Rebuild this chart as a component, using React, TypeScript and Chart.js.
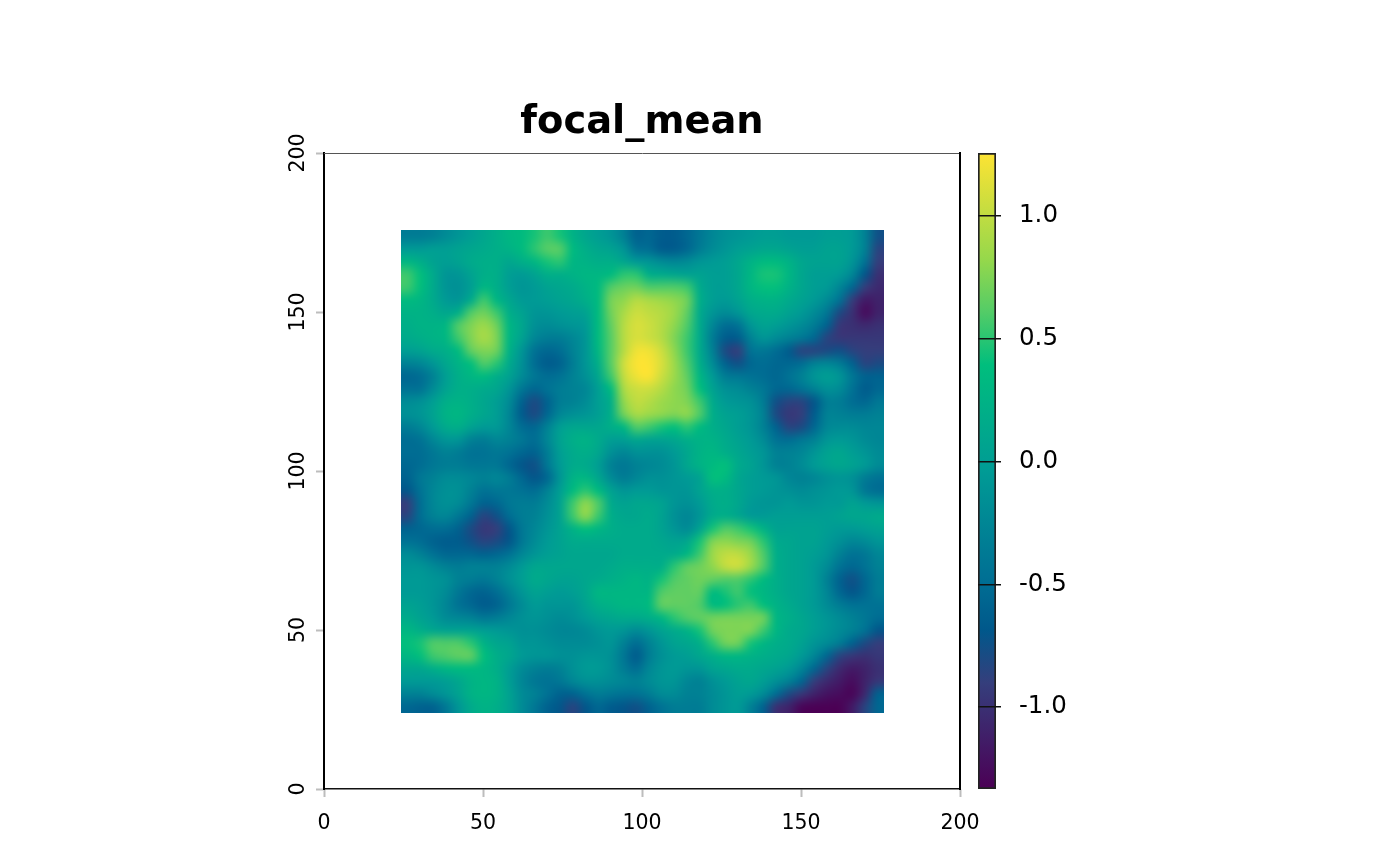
import React, { useEffect, useRef } from "react";
import { Chart, registerables } from "chart.js";

Chart.register(...registerables);

const titleText = "focal_mean";
const axisTicks = [0, 50, 100, 150, 200];
const legendTicks = [-1.0, -0.5, 0.0, 0.5, 1.0];
const legendRange = [-1.334, 1.257];
const paletteStops = [
  [0, "#4B0055"], [1 / 6, "#353E7C"], [0.25, "#00588B"], [1 / 3, "#007094"], [0.5, "#009B95"],
  [2 / 3, "#00BE7D"], [0.75, "#53CC67"], [5 / 6, "#96D84B"], [1, "#FDE333"],
] as [number, string][];
const gridExtent = [24, 176];
const cellSize = 4;

// focal mean values x100, one row per 4 map units, north to south, west to east
const cellRows: number[][] = [
  [-35,-35,-30,-20,-10,0,10,20,30,35,45,55,45,25,10,0,-10,-30,-60, -55,-65,-65,-55,-40,-25,-15,-10,-5,0,0,-5,-5,-5,0,0,-5,-30,-75],
  [-5,-5,0,0,5,10,15,20,25,35,50,62,62,35,20,10,5,-10,-45, -50,-65,-65,-55,-35,-20,-10,0,5,10,10,5,0,0,5,5,-5,-30,-85],
  [30,20,5,0,5,15,20,20,10,20,30,45,50,30,25,20,20,10,-5, -10,-20,-25,-20,-10,-5,0,10,25,35,35,25,10,5,5,5,-10,-45,-90],
  [55,40,15,-10,-10,5,20,20,0,-5,5,20,20,25,30,30,35,50,50, 20,15,10,5,5,0,0,10,30,45,45,30,10,0,0,-5,-25,-70,-100],
  [55,40,15,-10,-15,0,30,20,0,-10,-5,5,10,15,25,35,60,68,70, 60,60,60,55,15,0,0,10,30,40,40,25,10,0,-5,-25,-55,-90,-105],
  [35,30,15,-5,-10,15,55,30,10,-5,-5,0,5,10,20,35,72,80,95, 90,85,80,70,20,0,-5,5,20,25,25,15,5,-5,-20,-45,-90,-115,-110],
  [25,25,20,10,20,60,70,55,20,5,-10,-10,-5,0,5,35,70,90,105, 100,95,85,65,15,-10,-20,-10,10,15,15,5,-5,-20,-40,-80,-100,-125,-110],
  [20,25,25,30,60,75,85,70,30,10,-15,-20,-15,-10,-5,35,65,95,110, 105,95,80,60,15,-25,-50,-45,-10,5,0,-10,-20,-35,-60,-95,-100,-105,-100],
  [15,20,25,30,55,75,90,75,30,5,-25,-35,-35,-25,-10,35,62,95,110, 105,95,75,55,15,-35,-65,-65,-30,-10,-20,-30,-40,-55,-85,-95,-95,-95,-95],
  [0,5,15,20,35,65,75,70,25,-10,-45,-55,-50,-30,-10,30,62,95,120, 120,105,80,55,15,-30,-80,-90,-45,-40,-50,-65,-85,-85,-80,-75,-85,-90,-90],
  [-30,-25,-10,10,25,40,60,50,15,-15,-50,-65,-60,-35,-10,20,62,105,125, 125,110,85,60,20,-20,-60,-75,-55,-50,-55,-55,-50,-30,-25,-35,-60,-85,-80],
  [-55,-50,-30,0,20,30,35,20,5,-20,-40,-50,-45,-30,-15,10,55,100,120, 125,105,85,65,30,-5,-35,-40,-45,-50,-55,-45,-30,-10,0,-10,-40,-60,-60],
  [-45,-45,-20,5,20,20,15,10,-10,-40,-55,-45,-35,-30,-25,0,35,90,105, 105,95,80,70,40,5,-15,-20,-30,-40,-55,-55,-45,-30,-15,-20,-45,-65,-55],
  [-20,-15,0,20,25,20,10,0,-20,-60,-80,-60,-35,-30,-20,0,20,80,100, 95,85,80,75,55,15,-5,-10,-15,-35,-75,-85,-85,-70,-35,-35,-50,-55,-40],
  [-15,-10,5,25,30,20,10,0,-25,-65,-80,-55,-25,-15,-10,0,20,70,90, 85,80,75,80,60,20,5,0,-10,-30,-80,-95,-90,-65,-30,-30,-35,-35,-30],
  [-35,-25,-5,15,20,5,-5,-5,-25,-50,-55,-30,0,10,10,10,20,30,60, 55,45,40,50,35,20,10,0,-10,-30,-60,-85,-80,-55,-25,-20,-20,-25,-25],
  [-50,-45,-25,-10,-10,-30,-35,-25,-30,-40,-50,-25,5,20,25,15,0,0,10, 5,5,10,20,25,25,15,5,-5,-20,-45,-50,-40,-30,-10,-5,-10,-20,-25],
  [-50,-50,-40,-30,-35,-45,-45,-40,-45,-55,-60,-35,0,15,20,10,-15,-25,-15, -15,-15,-5,10,25,30,20,10,0,-10,-30,-30,-25,-10,5,10,0,-10,-20],
  [-55,-50,-40,-35,-35,-40,-40,-40,-55,-70,-75,-40,-5,15,15,0,-30,-40,-30, -25,-20,-10,10,25,35,40,15,5,-10,-30,-30,-20,-5,5,10,5,-5,-20],
  [-60,-40,-30,-20,-20,-25,-30,-25,-35,-55,-70,-55,-10,25,30,10,-20,-35,-25, -15,-15,-10,-5,5,40,35,10,0,-5,-10,-25,-30,-25,-15,-10,-15,-35,-45],
  [-70,-45,-25,-15,-15,-30,-45,-40,-40,-45,-50,-30,0,35,50,35,5,-10,-5, -5,-10,-10,-10,5,20,20,10,0,-5,-10,-15,-20,-15,-10,-5,-10,-40,-50],
  [-90,-50,-25,-15,-20,-40,-60,-55,-40,-35,-35,-20,5,55,80,60,15,5,10, 10,5,-10,-15,-5,15,20,10,-5,-10,-10,-5,-10,-10,-5,-5,5,-5,-10],
  [-85,-50,-30,-25,-40,-60,-85,-75,-50,-35,-30,-15,5,55,80,55,20,10,10, 15,5,-15,-25,-10,15,20,10,-5,-5,0,0,0,0,0,5,10,10,15],
  [-60,-55,-50,-50,-60,-80,-95,-90,-70,-40,-25,-10,5,25,40,30,20,15,15, 15,5,-10,-20,5,45,60,55,45,25,5,5,5,5,0,-5,-5,0,5],
  [-45,-50,-60,-65,-65,-75,-85,-80,-70,-40,-20,-5,5,15,15,15,15,15,15, 15,10,5,10,45,75,80,75,70,50,15,10,5,5,-5,-15,-25,-20,-10],
  [-20,-30,-45,-55,-55,-55,-60,-55,-45,-25,-10,0,5,10,10,10,10,15,15, 15,15,15,30,55,85,100,100,85,60,20,10,5,0,-10,-30,-45,-40,-25],
  [-10,-10,-20,-30,-35,-30,-30,-30,-20,-5,10,10,10,10,10,10,15,20,20, 20,20,50,65,70,80,100,105,85,60,20,10,5,-5,-20,-45,-55,-45,-30],
  [-5,-5,-10,-15,-30,-35,-40,-30,-15,0,15,10,5,5,10,15,20,25,30, 25,45,60,65,70,65,60,60,50,35,20,10,5,-5,-30,-60,-75,-55,-35],
  [-5,-5,-10,-20,-40,-55,-60,-50,-30,-10,5,0,-5,0,10,30,30,30,30, 30,60,65,65,65,35,45,55,40,30,20,10,5,-5,-25,-55,-70,-55,-35],
  [5,0,-10,-25,-45,-55,-65,-60,-40,-20,-5,-10,-10,-10,5,20,25,30,30, 35,65,65,65,60,35,40,50,55,40,25,15,5,-5,-20,-35,-45,-45,-45],
  [15,5,-5,-20,-25,-30,-40,-35,-25,-15,-10,-15,-20,-15,-5,5,10,15,15, 20,30,50,60,65,70,72,72,72,70,30,20,10,0,-10,-20,-30,-40,-50],
  [30,20,10,5,5,5,0,-5,-10,-15,-15,-20,-25,-25,-20,-10,-5,-10,-20, -10,5,15,25,45,70,75,75,75,55,30,15,10,0,-10,-20,-30,-45,-70],
  [40,45,60,60,60,50,25,10,5,-10,-10,-15,-20,-20,-20,-15,-10,-30,-50, -30,-10,5,10,20,50,70,70,45,30,20,15,5,-10,-20,-35,-60,-80,-90],
  [30,40,55,60,65,65,40,20,10,-5,-10,-10,-15,-15,-10,-10,-15,-40,-65, -35,-15,-5,0,10,20,30,30,25,20,15,10,-5,-25,-55,-85,-95,-100,-95],
  [10,10,20,30,35,35,30,20,0,-20,-30,-35,-30,-15,-5,-5,-15,-35,-50, -25,-10,-5,-10,-10,5,10,15,15,10,5,-5,-25,-55,-85,-105,-115,-110,-100],
  [-5,-5,-5,0,10,25,30,25,0,-25,-40,-45,-40,-25,-15,-15,-20,-25,-30, -20,-10,-10,-25,-30,-15,-5,5,10,0,-15,-30,-55,-90,-105,-115,-125,-110,-95],
  [-30,-30,-20,-10,5,25,30,25,5,-20,-30,-45,-60,-60,-45,-35,-40,-45,-45, -35,-20,-20,-30,-30,-20,-10,0,-5,-20,-50,-80,-95,-110,-120,-125,-130,-105,-60],
  [-55,-60,-60,-40,-10,15,25,20,5,-20,-40,-60,-70,-85,-70,-55,-65,-70,-75, -60,-45,-35,-35,-35,-20,-10,-5,-30,-60,-100,-110,-130,-133,-133,-133,-115,-85,-55],
];

const hexToRgb = (h: string) => [1, 3, 5].map((i) => parseInt(h.slice(i, i + 2), 16));

function colorFor(value: number): number[] {
  const t = Math.min(1, Math.max(0, (value - legendRange[0]) / (legendRange[1] - legendRange[0])));
  for (let i = 1; i < paletteStops.length; i++) {
    if (t <= paletteStops[i][0]) {
      const [t0, c0] = paletteStops[i - 1];
      const [t1, c1] = paletteStops[i];
      const f = (t - t0) / (t1 - t0);
      const a = hexToRgb(c0);
      const b = hexToRgb(c1);
      return a.map((v, k) => Math.round(v + (b[k] - v) * f));
    }
  }
  return hexToRgb(paletteStops[paletteStops.length - 1][1]);
}

const cellPoints = cellRows.flatMap((row, r) =>
  row.map((v, c) => ({
    x: gridExtent[0] + cellSize * (c + 0.5),
    y: gridExtent[1] - cellSize * (r + 0.5),
    v: v / 100,
  }))
);

const rasterPlugin = {
  id: "raster",
  beforeDatasetsDraw(chart: any) {
    const pts = chart.data.datasets[0].data as { x: number; y: number; v: number }[];
    const nRows = cellRows.length;
    const nCols = cellRows[0].length;
    const off = document.createElement("canvas");
    off.width = nCols;
    off.height = nRows;
    const octx = off.getContext("2d")!;
    const img = octx.createImageData(nCols, nRows);
    pts.forEach((p, i) => {
      const [r, g, b] = colorFor(p.v);
      img.data.set([r, g, b, 255], i * 4);
    });
    octx.putImageData(img, 0, 0);
    const { x, y } = chart.scales;
    const left = Math.ceil(x.getPixelForValue(gridExtent[0]));
    const right = Math.ceil(x.getPixelForValue(gridExtent[1]));
    const top = Math.ceil(y.getPixelForValue(gridExtent[1]));
    const bottom = Math.ceil(y.getPixelForValue(gridExtent[0]));
    const ctx = chart.ctx;
    ctx.save();
    ctx.imageSmoothingEnabled = true;
    ctx.imageSmoothingQuality = "high";
    ctx.drawImage(off, left, top, right - left, bottom - top);
    ctx.restore();
  },
};

const FONT = "'DejaVu Sans'";

export default function App() {
  const mainRef = useRef<HTMLCanvasElement>(null);
  const legendRef = useRef<HTMLCanvasElement>(null);

  useEffect(() => {
    document.body.style.margin = "0";
    const setTicks = (scale: any) => {
      scale.ticks = axisTicks.map((v) => ({ value: v }));
    };
    const main = new Chart(mainRef.current!, {
      type: "scatter",
      data: { datasets: [{ data: cellPoints, pointRadius: 0, pointHoverRadius: 0 }] },
      plugins: [rasterPlugin],
      options: {
        animation: false,
        responsive: false,
        events: [],
        layout: { padding: 0 },
        plugins: {
          legend: { display: false },
          tooltip: { enabled: false },
          title: {
            display: true,
            text: titleText,
            color: "#000",
            fullSize: false,
            font: { family: FONT, size: 38.4, weight: "bold", lineHeight: 1.25 },
            padding: { top: 99, bottom: 6 },
          },
        },
        scales: {
          x: {
            type: "linear",
            position: "bottom",
            min: 0,
            max: 200,
            afterBuildTicks: setTicks,
            afterFit: (s: any) => { s.height = 77; },
            grid: { drawOnChartArea: false, tickColor: "#bdbdbd", tickWidth: 2, tickLength: 8 },
            border: { color: "#111", width: 1.5 },
            ticks: { color: "#000", font: { family: FONT, size: 20.5 }, padding: 14, maxRotation: 0, minRotation: 0 },
          },
          y: {
            type: "linear",
            position: "left",
            min: 0,
            max: 200,
            afterBuildTicks: setTicks,
            afterFit: (s: any) => { s.width = 324; },
            grid: { drawOnChartArea: false, tickColor: "#bdbdbd", tickWidth: 2, tickLength: 8 },
            border: { color: "#000", width: 2 },
            ticks: { color: "#000", font: { family: FONT, size: 20.5 }, padding: -2, minRotation: 90, maxRotation: 90, crossAlign: "center" },
          },
          xTop: {
            type: "linear",
            position: "top",
            min: 0,
            max: 200,
            afterFit: (s: any) => { s.height = 0; },
            grid: { display: false, drawTicks: false },
            border: { color: "#555", width: 1 },
            ticks: { display: false },
          },
          yRight: {
            type: "linear",
            position: "right",
            min: 0,
            max: 200,
            afterFit: (s: any) => { s.width = 440; },
            grid: { display: false, drawTicks: false },
            border: { color: "#000", width: 2 },
            ticks: { display: false },
          },
        },
      } as any,
    });

    const legend = new Chart(legendRef.current!, {
      type: "bar",
      data: {
        labels: ["legend"],
        datasets: [
          {
            data: [legendRange as any],
            borderColor: "#222",
            borderWidth: 2,
            borderSkipped: false,
            categoryPercentage: 1,
            barPercentage: 1,
            backgroundColor: (c: any) => {
              const area = c.chart.chartArea;
              if (!area) return "#00BE7D";
              const g = c.chart.ctx.createLinearGradient(0, area.bottom, 0, area.top);
              paletteStops.forEach(([t, col]) => g.addColorStop(t, col));
              return g;
            },
          },
        ],
      },
      options: {
        animation: false,
        responsive: false,
        events: [],
        layout: { padding: { left: 28, top: 153, bottom: 77, right: 0 } },
        plugins: { legend: { display: false }, tooltip: { enabled: false } },
        scales: {
          x: { display: false },
          y: {
            type: "linear",
            position: "right",
            min: legendRange[0],
            max: legendRange[1],
            afterBuildTicks: (s: any) => { s.ticks = legendTicks.map((v) => ({ value: v })); },
            afterFit: (s: any) => { s.width = 254; },
            grid: { z: 1, color: "#111", lineWidth: 1.5, tickColor: "#111", tickLength: 5, tickWidth: 1.5 },
            border: { display: false },
            ticks: {
              color: "#000",
              font: { family: FONT, size: 24.5 },
              padding: 18,
              callback: (v: any) => Number(v).toFixed(1),
            },
          },
        },
      } as any,
    });

    return () => {
      main.destroy();
      legend.destroy();
    };
  }, []);

  return (
    <div style={{ position: "relative", width: 1400, height: 866, background: "#fff" }}>
      <canvas ref={mainRef} width={1400} height={866} style={{ position: "absolute", left: 0, top: 0 }} />
      <canvas ref={legendRef} width={300} height={866} style={{ position: "absolute", left: 950, top: 0 }} />
    </div>
  );
}
